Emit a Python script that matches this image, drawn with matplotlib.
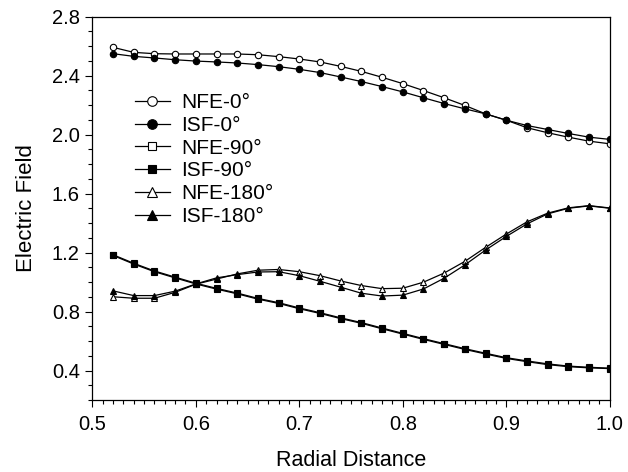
import matplotlib
matplotlib.use("Agg")
import matplotlib.pyplot as plt
from matplotlib.ticker import MultipleLocator

plt.rcParams['font.family'] = ['Liberation Sans', 'DejaVu Sans']

# radial positions 0.52 .. 1.00
r = [0.52, 0.54, 0.56, 0.58, 0.60, 0.62, 0.64, 0.66, 0.68, 0.70, 0.72, 0.74, 0.76,
     0.78, 0.80, 0.82, 0.84, 0.86, 0.88, 0.90, 0.92, 0.94, 0.96, 0.98, 1.00]

nfe_0 = [2.591, 2.557, 2.548, 2.546, 2.546, 2.546, 2.546, 2.541, 2.528, 2.512, 2.492, 2.462, 2.428,
         2.388, 2.345, 2.298, 2.249, 2.197, 2.140, 2.097, 2.046, 2.012, 1.982, 1.955, 1.937]
isf_0 = [2.548, 2.530, 2.519, 2.507, 2.498, 2.492, 2.485, 2.474, 2.460, 2.442, 2.420, 2.390, 2.359,
         2.325, 2.289, 2.249, 2.210, 2.174, 2.140, 2.097, 2.061, 2.034, 2.007, 1.982, 1.967]
nfe_90 = [1.185, 1.127, 1.075, 1.033, 0.992, 0.957, 0.925, 0.889, 0.860, 0.824, 0.792, 0.757, 0.725,
          0.688, 0.652, 0.616, 0.582, 0.548, 0.517, 0.487, 0.465, 0.445, 0.430, 0.422, 0.416]
isf_90 = [1.180, 1.122, 1.070, 1.028, 0.987, 0.952, 0.920, 0.884, 0.855, 0.819, 0.787, 0.752, 0.720,
          0.683, 0.647, 0.611, 0.577, 0.543, 0.512, 0.482, 0.460, 0.440, 0.426, 0.418, 0.413]
nfe_180 = [0.900, 0.890, 0.890, 0.930, 0.985, 1.020, 1.055, 1.080, 1.085, 1.070, 1.043, 1.007, 0.976,
           0.955, 0.958, 0.999, 1.061, 1.140, 1.235, 1.325, 1.408, 1.467, 1.503, 1.518, 1.502]
isf_180 = [0.940, 0.908, 0.908, 0.938, 0.987, 1.028, 1.050, 1.068, 1.070, 1.043, 1.005, 0.965, 0.924,
           0.905, 0.911, 0.953, 1.026, 1.116, 1.217, 1.309, 1.394, 1.462, 1.500, 1.516, 1.500]

series = [
    ("NFE-0\u00b0", nfe_0, 'o', 'white', 4.6),
    ("ISF-0\u00b0", isf_0, 'o', 'black', 4.6),
    ("NFE-90\u00b0", nfe_90, 's', 'white', 3.8),
    ("ISF-90\u00b0", isf_90, 's', 'black', 3.8),
    ("NFE-180\u00b0", nfe_180, '^', 'white', 4.4),
    ("ISF-180\u00b0", isf_180, '^', 'black', 4.4),
]

fig = plt.figure(figsize=(6.28, 4.72), dpi=100)
ax = fig.add_axes([0.147, 0.1525, 0.824, 0.8125])

for label, vals, mk, fc, ms in series:
    ax.plot(r, vals, color='black', lw=0.9, marker=mk, markersize=ms,
            markerfacecolor=fc, markeredgecolor='black', markeredgewidth=0.8,
            label=label)

ax.set_xlim(0.5, 1.0)
ax.set_ylim(0.2, 2.8)
ax.xaxis.set_major_locator(MultipleLocator(0.1))
ax.xaxis.set_minor_locator(MultipleLocator(0.01))
ax.yaxis.set_major_locator(MultipleLocator(0.4))
ax.yaxis.set_minor_locator(MultipleLocator(0.1))
ax.xaxis.set_major_formatter(plt.FormatStrFormatter('%.1f'))
ax.yaxis.set_major_formatter(plt.FormatStrFormatter('%.1f'))
ax.tick_params(which='both', direction='out', top=False, right=False, labelsize=14.5)
ax.tick_params(which='major', length=5, width=0.8, pad=4)
ax.tick_params(axis='x', which='major', pad=6)
ax.tick_params(which='minor', length=2.6, width=0.8)
for s in ax.spines.values():
    s.set_linewidth(0.9)

ax.set_xlabel('Radial Distance', fontsize=15.5, labelpad=11)
ax.set_ylabel('Electric Field', fontsize=16, labelpad=11)

ax.legend(loc='upper left', bbox_to_anchor=(0.082, 0.80), frameon=False, fontsize=15,
          markerscale=1.5, handlelength=1.7, handletextpad=0.55, labelspacing=0.18,
          borderpad=0, borderaxespad=0)

fig.savefig('out.png', dpi=100)
